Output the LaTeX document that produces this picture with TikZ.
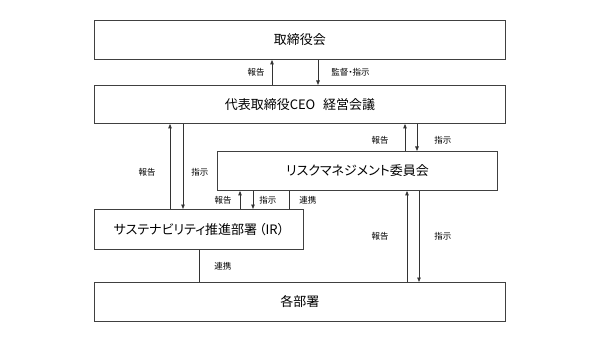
\documentclass[tikz,border=0pt]{standalone}
\usepackage{fontspec}
\setmainfont{Noto Sans CJK JP}[RawFeature=+palt]
\usetikzlibrary{arrows.meta,positioning,calc}

\begin{document}
\begin{tikzpicture}[x=1pt,y=-1pt,
  unit/.style={draw=black!75, line width=0.9pt, inner sep=0pt, anchor=north west, font=\fontsize{13}{15}\selectfont},
  arr/.style={draw=black!80, line width=0.8pt, -{Triangle[length=4.5pt,width=3.5pt]}},
  link/.style={draw=black!80, line width=0.8pt},
  lbl/.style={font=\fontsize{8.5}{10}\selectfont, inner sep=0pt}]
  \useasboundingbox (0,0) rectangle (600,342);
  \node[unit, minimum width=411pt, minimum height=39pt] (board) at (94,20) {取締役会};
  \node[unit, minimum width=411pt, minimum height=38pt] (ceo) at (94,85) {代表取締役CEO\hspace{0.6em}経営会議};
  \node[unit, minimum width=280pt, minimum height=39pt] (risk) at (217,151) {リスクマネジメント委員会};
  \node[unit, minimum width=209pt, minimum height=40pt] (sust) at (94,209) {サステナビリティ推進部署\hspace{0.15em}（IR）};
  \node[unit, minimum width=411pt, minimum height=39pt] (each) at (94,282) {各部署};
  % board <-> ceo
  \draw[arr] ([xshift=178pt]ceo.north west) -- node[lbl, left=7pt] {報告} ([xshift=178pt]ceo.north west |- board.south);
  \draw[arr] ([xshift=224pt]ceo.north west |- board.south) -- node[lbl, right=13pt] {監督・指示} ([xshift=224pt]ceo.north west);
  % ceo <-> sust
  \draw[arr] ([xshift=76pt]sust.north west) -- node[lbl, left=14pt, pos=0.43] {報告} ([xshift=76pt]sust.north west |- ceo.south);
  \draw[arr] ([xshift=89pt]sust.north west |- ceo.south) -- node[lbl, right=8pt, pos=0.57] {指示} ([xshift=89pt]sust.north west);
  % ceo <-> risk
  \draw[arr] ([xshift=188pt]risk.north west) -- node[lbl, left=16pt, pos=0.4] {報告} ([xshift=188pt]risk.north west |- ceo.south);
  \draw[arr] ([xshift=200pt]risk.north west |- ceo.south) -- node[lbl, right=17pt, pos=0.6] {指示} ([xshift=200pt]risk.north west);
  % risk <-> sust
  \draw[arr] ([xshift=146pt]sust.north west) -- node[lbl, left=8pt] {報告} ([xshift=146pt]sust.north west |- risk.south);
  \draw[arr] ([xshift=159pt]sust.north west |- risk.south) -- node[lbl, right=6pt] {指示} ([xshift=159pt]sust.north west);
  \draw[link] ([xshift=195pt]sust.north west) -- node[lbl, right=10pt] {連携} ([xshift=195pt]sust.north west |- risk.south);
  % risk <-> each
  \draw[arr] ([xshift=313pt]each.north west) -- node[lbl, left=18pt] {報告} ([xshift=313pt]each.north west |- risk.south);
  \draw[arr] ([xshift=325pt]each.north west |- risk.south) -- node[lbl, right=15pt] {指示} ([xshift=325pt]each.north west);
  % sust - each
  \draw[link] ([xshift=105pt]sust.south west) -- node[lbl, right=15pt] {連携} ([xshift=105pt]sust.south west |- each.north);
\end{tikzpicture}
\end{document}
